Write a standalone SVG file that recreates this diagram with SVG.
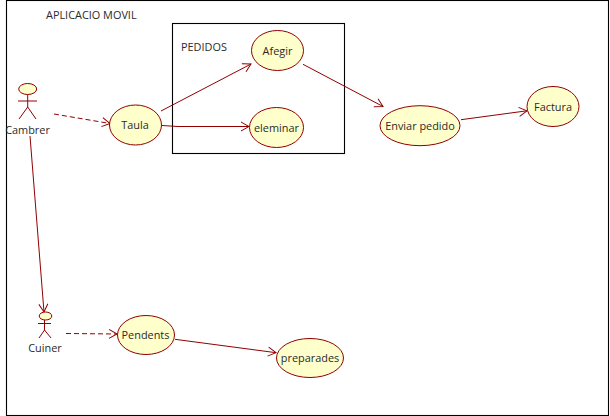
<svg xmlns="http://www.w3.org/2000/svg" width="610" height="416" viewBox="0 0 610 416">
<style>
.uc{fill:#ffffcb;stroke:#900000;stroke-width:1}
.box{fill:none;stroke:#000;stroke-width:1.1}
.c{fill:none;stroke:#900000;stroke-width:1}
.d{stroke-dasharray:5 3}
.ln{fill:none;stroke:#900000;stroke-width:1}
text{font-family:"Open Sans","Noto Sans","DejaVu Sans",sans-serif;font-size:10.9px;fill:#2a2a2a;text-anchor:middle}
.l{text-anchor:start}
</style>
<defs>
<marker id="a" markerUnits="userSpaceOnUse" markerWidth="12" markerHeight="12" viewBox="-10 -6 12 12" refX="0" refY="0" orient="auto" overflow="visible">
<path d="M-8,-4.5L0,0L-8,4.5" fill="none" stroke="#900000" stroke-width="1"/>
</marker>
</defs>
<rect width="610" height="416" fill="#fff"/>
<g id="frame"><rect class="box" x="6.5" y="0.5" width="602" height="415"/><text class="l" x="46" y="19">APLICACIO MOVIL</text></g>
<g id="pedidos"><rect class="box" x="172.5" y="23.5" width="172" height="130"/><text class="l" x="181" y="51">PEDIDOS</text></g>
<g id="connectors">
<path class="c d" marker-end="url(#a)" d="M54,114L110,123.5"/>
<path class="c" marker-end="url(#a)" d="M161,111L251,64"/>
<path class="c" marker-end="url(#a)" d="M162,125.5L178,126.5L249,126.5"/>
<path class="c" marker-end="url(#a)" d="M303,64.3L383,106.5"/>
<path class="c" marker-end="url(#a)" d="M461,119.7L527,110.8"/>
<path class="c" marker-end="url(#a)" d="M30,136L44,312"/>
<path class="c d" marker-end="url(#a)" d="M66,333.5L117,334"/>
<path class="c" marker-end="url(#a)" d="M175,339.3L276,352.7"/>
</g>
<g id="cambrer"><ellipse class="uc" cx="27.7" cy="89" rx="9" ry="5.5"/><path class="ln" d="M27.7,94.5V107M18,101H37M19,119L27.7,107L36,119"/><text x="27.5" y="134">Cambrer</text></g>
<g id="cuiner"><ellipse class="uc" cx="45.5" cy="316" rx="6.3" ry="4"/><path class="ln" d="M44.5,320V330M38,323.5H51M39,338L44.5,330L51,338"/><text x="45" y="352">Cuiner</text></g>
<g id="taula"><ellipse class="uc" cx="135.5" cy="125" rx="26" ry="20"/><text x="135" y="129">Taula</text></g>
<g id="afegir"><ellipse class="uc" cx="277.5" cy="50.5" rx="26" ry="20"/><text x="277.5" y="55">Afegir</text></g>
<g id="eleminar"><ellipse class="uc" cx="276.5" cy="127.5" rx="27" ry="20"/><text x="276.5" y="132">eleminar</text></g>
<g id="enviar"><ellipse class="uc" cx="420" cy="125.7" rx="40" ry="20"/><text x="420" y="130">Enviar pedido</text></g>
<g id="factura"><ellipse class="uc" cx="553" cy="106.5" rx="26" ry="20"/><text x="553" y="111">Factura</text></g>
<g id="pendents"><ellipse class="uc" cx="146" cy="335" rx="28.5" ry="19.5"/><text x="145.5" y="339">Pendents</text></g>
<g id="preparades"><ellipse class="uc" cx="310" cy="358" rx="33.5" ry="19.5"/><text x="310" y="362">preparades</text></g>
</svg>
